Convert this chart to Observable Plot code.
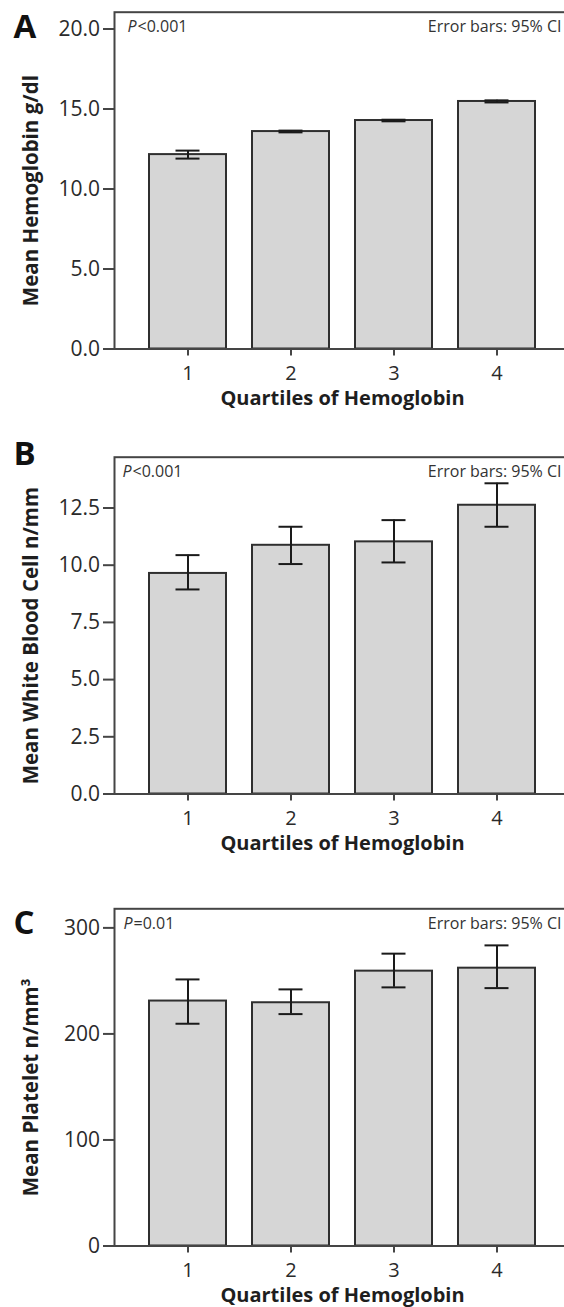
<!DOCTYPE html>
<html><head><meta charset="utf-8">
<script src="https://cdn.jsdelivr.net/npm/d3@7"></script>
<script src="https://cdn.jsdelivr.net/npm/@observablehq/plot@0.6"></script>
<style>
body{margin:0;background:#fff;}
#chart{width:564px;}
#chart svg{display:block;overflow:hidden;}
</style></head><body><div id="chart"></div>
<script>
const quartiles = ["1", "2", "3", "4"];
const xTitle = "Quartiles of Hemoglobin";
const ciNote = "Error bars: 95% CI";

const hgbMean = [12.15, 13.59, 14.28, 15.47];
const hgbLo   = [11.90, 13.54, 14.23, 15.41];
const hgbHi   = [12.40, 13.65, 14.33, 15.54];

const wbcMean = [9.64, 10.87, 11.02, 12.62];
const wbcLo   = [8.94, 10.05, 10.12, 11.68];
const wbcHi   = [10.44, 11.68, 11.97, 13.58];

const pltMean = [231, 229.4, 259.2, 262];
const pltLo   = [209.6, 218.7, 243.9, 243.2];
const pltHi   = [251.4, 242.0, 275.7, 283.5];

const panelLetters = ["A", "B", "C"];
const yTitles = ["Mean Hemoglobin g/dl", "Mean White Blood Cell n/mm", "Mean Platelet n/mm³"];
const pValues = ["<0.001", "<0.001", "=0.01"];
const yTicksA = [0, 5, 10, 15, 20];
const yTicksB = [0, 2.5, 5, 7.5, 10, 12.5];
const yTicksC = [0, 100, 200, 300];

const panels = [
  {mean: hgbMean, lo: hgbLo, hi: hgbHi, domain: [0, 21.05], ticks: yTicksA, fmt: d3.format(".1f"),
   height: 420, mt: 11.7, mb: 71.5, letterDy: 15.5, pDx: 13},
  {mean: wbcMean, lo: wbcLo, hi: wbcHi, domain: [0, 14.72], ticks: yTicksB, fmt: d3.format(".1f"),
   height: 460, mt: 36.7, mb: 86.5, letterDy: -3.2, pDx: 8},
  {mean: pltMean, lo: pltLo, hi: pltHi, domain: [0, 318], ticks: yTicksC, fmt: d3.format("d"),
   height: 427, mt: 28.3, mb: 61.5, letterDy: 14.2, pDx: 9}
];

const font = "'Open Sans', 'Noto Sans', sans-serif";
const root = document.getElementById("chart");

panels.forEach((p, i) => {
  const rows = quartiles.map((q, j) => ({q, mean: p.mean[j], lo: p.lo[j], hi: p.hi[j]}));
  const capInset = 26.5;
  const chart = Plot.plot({
    width: 564,
    height: p.height,
    marginLeft: 114,
    marginRight: 0,
    marginTop: p.mt,
    marginBottom: p.mb,
    style: {fontFamily: font, fontSize: "20px", color: "#2a2a2a", background: "white", overflow: "hidden"},
    x: {type: "band", domain: quartiles, range: [114, 571], paddingInner: 0.252, paddingOuter: 0.344, label: null},
    y: {domain: p.domain, label: null},
    marks: [
      Plot.barY(rows, {x: "q", y: "mean", fill: "#d6d6d6", stroke: "#2f2f2f", strokeWidth: 2}),
      Plot.ruleX(rows, {x: "q", y1: "lo", y2: "hi", stroke: "#1a1a1a", strokeWidth: 2}),
      Plot.tickY(rows, {x: "q", y: "lo", stroke: "#1a1a1a", strokeWidth: 2, insetLeft: capInset, insetRight: capInset}),
      Plot.tickY(rows, {x: "q", y: "hi", stroke: "#1a1a1a", strokeWidth: 2, insetLeft: capInset, insetRight: capInset}),
      Plot.frame({stroke: "#454545", strokeWidth: 2, insetRight: -8}),
      Plot.axisY({ticks: p.ticks, tickFormat: p.fmt, tickSize: 11, tickPadding: 3.5, stroke: "#454545", strokeWidth: 2,
                  fill: "#2a2a2a", fontSize: 21, label: null}),
      Plot.axisX({tickSize: 7, tickPadding: 10, stroke: "#454545", strokeWidth: 2, fill: "#2a2a2a", fontSize: 20, label: null}),
      Plot.text([yTitles[i]], {text: d => d, frameAnchor: "left", rotate: -90, dx: -83, dy: 10,
                               textAnchor: "middle", lineAnchor: "middle",
                               fontWeight: "bold", fontSize: 20.5, fill: "#1e1e1e"}),
      Plot.text([xTitle], {text: d => d, frameAnchor: "bottom", dx: 3, dy: 49.5,
                           textAnchor: "middle", lineAnchor: "middle",
                           fontWeight: "bold", fontSize: 20, fill: "#1e1e1e"}),
      Plot.text([panelLetters[i]], {text: d => d, frameAnchor: "top-left", dx: -101, dy: p.letterDy,
                                    textAnchor: "start", lineAnchor: "middle", fontWeight: "bold", fontSize: 33, fill: "#111"}),
      Plot.text(["P"], {text: d => d, frameAnchor: "top-left", dx: p.pDx, dy: 15,
                        textAnchor: "start", lineAnchor: "middle", fontStyle: "italic", fontSize: 16, fill: "#333"}),
      Plot.text([pValues[i]], {text: d => d, frameAnchor: "top-left", dx: p.pDx + 10, dy: 15,
                               textAnchor: "start", lineAnchor: "middle", fontSize: 16, fill: "#333"}),
      Plot.text([ciNote], {text: d => d, frameAnchor: "top-right", dx: -3, dy: 15,
                           textAnchor: "end", lineAnchor: "middle", fontSize: 16, fill: "#333"})
    ]
  });
  root.appendChild(chart);
});
</script>
</body></html>
